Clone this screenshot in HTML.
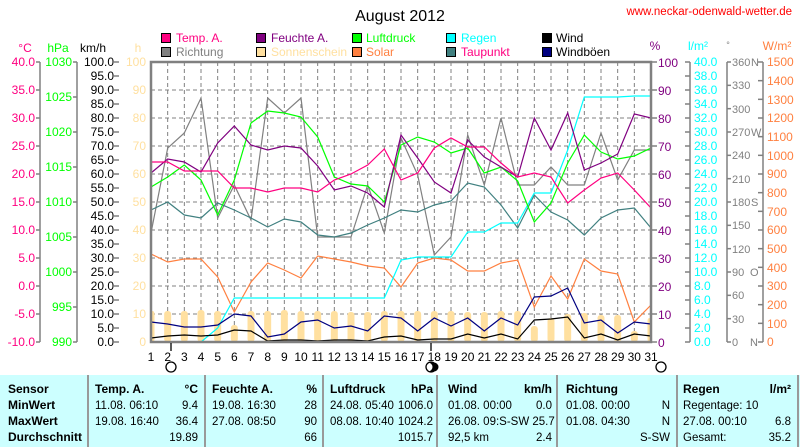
<!DOCTYPE html>
<html><head><meta charset="utf-8"><style>
body{margin:0;background:#fff}
svg{display:block;font-family:"Liberation Sans",sans-serif}
.t{font-size:12px}
.tb{font-size:12px;font-weight:bold}
</style></head><body>
<svg id="s" width="800" height="447" viewBox="0 0 800 447">
<rect width="800" height="447" fill="#fff"/>
<text x="400" y="21" font-size="16" text-anchor="middle">August 2012</text>
<text x="792" y="15" font-size="11.5" fill="#ff0000" text-anchor="end">www.neckar-odenwald-wetter.de</text>
<g font-size="12">
<rect x="161.5" y="33.5" width="9" height="9" fill="#ff0080" stroke="#000"/><text x="176" y="42" fill="#ff0080">Temp. A.</text>
<rect x="256.5" y="33.5" width="9" height="9" fill="#800080" stroke="#000"/><text x="271" y="42" fill="#800080">Feuchte A.</text>
<rect x="352.5" y="33.5" width="9" height="9" fill="#00ff00" stroke="#000"/><text x="366" y="42" fill="#00ff00">Luftdruck</text>
<rect x="446.5" y="33.5" width="9" height="9" fill="#00ffff" stroke="#000"/><text x="461" y="42" fill="#00ffff">Regen</text>
<rect x="542.5" y="33.5" width="9" height="9" fill="#000" stroke="#000"/><text x="556" y="42" fill="#000">Wind</text>
<rect x="161.5" y="47.5" width="9" height="9" fill="#808080" stroke="#000"/><text x="176" y="56" fill="#808080">Richtung</text>
<rect x="256.5" y="47.5" width="9" height="9" fill="#ffe0a0" stroke="#000"/><text x="271" y="56" fill="#ffe0a0">Sonnenschein</text>
<rect x="352.5" y="47.5" width="9" height="9" fill="#ff8040" stroke="#000"/><text x="366" y="56" fill="#ff8040">Solar</text>
<rect x="446.5" y="47.5" width="9" height="9" fill="#408080" stroke="#000"/><text x="461" y="56" fill="#ff0080">Taupunkt</text>
<rect x="542.5" y="47.5" width="9" height="9" fill="#000080" stroke="#000"/><text x="556" y="56" fill="#000">Windböen</text>
</g>
<g font-size="12">
<text x="25" y="52" text-anchor="middle" fill="#ff0080">°C</text>
<text x="58" y="52" text-anchor="middle" fill="#00ff00">hPa</text>
<text x="93" y="52" text-anchor="middle">km/h</text>
<text x="138" y="52" text-anchor="middle" fill="#ffe0a0">h</text>
<text x="655" y="50" text-anchor="middle" fill="#800080">%</text>
<text x="698" y="50" text-anchor="middle" fill="#00ffff">l/m²</text>
<text x="728" y="48" text-anchor="middle" fill="#808080" font-size="9">°</text>
<text x="777" y="50" text-anchor="middle" fill="#ff8040">W/m²</text>
</g>
<g stroke="#808080" stroke-width="1.5">
<line x1="40" y1="62" x2="40" y2="342"/>
<line x1="77" y1="62" x2="77" y2="342"/>
<line x1="690" y1="62" x2="690" y2="342"/>
<line x1="727" y1="62" x2="727" y2="342"/>
<line x1="763" y1="62" x2="763" y2="342"/>
</g>
<g id="ticks" stroke="#808080" stroke-width="1.5"></g>
<g class="t" fill="#ff0080" text-anchor="end">
<text x="35" y="66">40.0</text><text x="35" y="94">35.0</text><text x="35" y="122">30.0</text><text x="35" y="150">25.0</text><text x="35" y="178">20.0</text><text x="35" y="206">15.0</text><text x="35" y="234">10.0</text><text x="35" y="262">5.0</text><text x="35" y="290">0.0</text><text x="35" y="318">-5.0</text><text x="35" y="346">-10.0</text>
</g>
<g class="t" fill="#00ff00" text-anchor="end">
<text x="72" y="66">1030</text><text x="72" y="101">1025</text><text x="72" y="136">1020</text><text x="72" y="171">1015</text><text x="72" y="206">1010</text><text x="72" y="241">1005</text><text x="72" y="276">1000</text><text x="72" y="311">995</text><text x="72" y="346">990</text>
</g>
<g class="t" fill="#000" text-anchor="end">
<text x="114" y="66">100.0</text><text x="114" y="80">95.0</text><text x="114" y="94">90.0</text><text x="114" y="108">85.0</text><text x="114" y="122">80.0</text><text x="114" y="136">75.0</text><text x="114" y="150">70.0</text><text x="114" y="164">65.0</text><text x="114" y="178">60.0</text><text x="114" y="192">55.0</text><text x="114" y="206">50.0</text><text x="114" y="220">45.0</text><text x="114" y="234">40.0</text><text x="114" y="248">35.0</text><text x="114" y="262">30.0</text><text x="114" y="276">25.0</text><text x="114" y="290">20.0</text><text x="114" y="304">15.0</text><text x="114" y="318">10.0</text><text x="114" y="332">5.0</text><text x="114" y="346">0.0</text>
</g>
<g class="t" fill="#ffe0a0" text-anchor="end">
<text x="146" y="66">100</text><text x="146" y="94">90</text><text x="146" y="122">80</text><text x="146" y="150">70</text><text x="146" y="178">60</text><text x="146" y="206">50</text><text x="146" y="234">40</text><text x="146" y="262">30</text><text x="146" y="290">20</text><text x="146" y="318">10</text><text x="146" y="346">0</text>
</g>
<g class="t" fill="#800080">
<text x="658" y="67">100</text><text x="658" y="95">90</text><text x="658" y="123">80</text><text x="658" y="151">70</text><text x="658" y="179">60</text><text x="658" y="207">50</text><text x="658" y="235">40</text><text x="658" y="263">30</text><text x="658" y="291">20</text><text x="658" y="319">10</text><text x="658" y="347">0</text>
</g>
<g class="t" fill="#00ffff">
<text x="694" y="66">40.0</text><text x="694" y="80">38.0</text><text x="694" y="94">36.0</text><text x="694" y="108">34.0</text><text x="694" y="122">32.0</text><text x="694" y="136">30.0</text><text x="694" y="150">28.0</text><text x="694" y="164">26.0</text><text x="694" y="178">24.0</text><text x="694" y="192">22.0</text><text x="694" y="206">20.0</text><text x="694" y="220">18.0</text><text x="694" y="234">16.0</text><text x="694" y="248">14.0</text><text x="694" y="262">12.0</text><text x="694" y="276">10.0</text><text x="694" y="290">8.0</text><text x="694" y="304">6.0</text><text x="694" y="318">4.0</text><text x="694" y="332">2.0</text><text x="694" y="346">0.0</text>
</g>
<g font-size="11" fill="#808080">
<text x="732" y="66">360</text><text x="732" y="89">330</text><text x="732" y="113">300</text><text x="732" y="136">270</text><text x="732" y="159">240</text><text x="732" y="183">210</text><text x="732" y="206">180</text><text x="732" y="229">150</text><text x="732" y="253">120</text><text x="732" y="276">90</text><text x="732" y="299">60</text><text x="732" y="323">30</text><text x="732" y="346">0</text>
<text x="751" y="66">N</text><text x="751" y="136">W</text><text x="751" y="206">S</text><text x="750" y="276">O</text><text x="750" y="346">N</text>
</g>
<g class="t" fill="#ff8040">
<text x="767" y="66">1500</text><text x="767" y="85">1400</text><text x="767" y="104">1300</text><text x="767" y="122">1200</text><text x="767" y="141">1100</text><text x="767" y="160">1000</text><text x="767" y="178">900</text><text x="767" y="197">800</text><text x="767" y="216">700</text><text x="767" y="234">600</text><text x="767" y="253">500</text><text x="767" y="272">400</text><text x="767" y="290">300</text><text x="767" y="309">200</text><text x="767" y="328">100</text><text x="767" y="346">0</text>
</g>
<g id="grid" stroke="#808080" stroke-dasharray="4,3" stroke-width="1"></g>
<g id="bars" fill="#ffe0a0"></g>
<g id="series" fill="none" stroke-width="1.2"></g>
<rect x="151" y="62" width="500" height="280" fill="none" stroke="#808080" stroke-width="2.5"/>
<g class="t" text-anchor="middle" font-size="13">
<text x="151" y="361">1</text><text x="167.7" y="361">2</text><text x="184.3" y="361">3</text><text x="201" y="361">4</text><text x="217.7" y="361">5</text><text x="234.3" y="361">6</text><text x="251" y="361">7</text><text x="267.7" y="361">8</text><text x="284.3" y="361">9</text><text x="301" y="361">10</text><text x="317.7" y="361">11</text><text x="334.3" y="361">12</text><text x="351" y="361">13</text><text x="367.7" y="361">14</text><text x="384.3" y="361">15</text><text x="401" y="361">16</text><text x="417.7" y="361">17</text><text x="434.3" y="361">18</text><text x="451" y="361">19</text><text x="467.7" y="361">20</text><text x="484.3" y="361">21</text><text x="501" y="361">22</text><text x="517.7" y="361">23</text><text x="534.3" y="361">24</text><text x="551" y="361">25</text><text x="567.7" y="361">26</text><text x="584.3" y="361">27</text><text x="601" y="361">28</text><text x="617.7" y="361">29</text><text x="634.3" y="361">30</text><text x="651" y="361">31</text>
</g>
<g stroke="#000" stroke-width="1.3">
<line x1="171" y1="343" x2="171" y2="351"/><line x1="431" y1="343" x2="431" y2="351"/>
<circle cx="171" cy="367" r="5" fill="#fff"/>
<circle cx="431" cy="367" r="5" fill="#fff"/><path d="M428 362.5 A4.5 4.5 0 0 1 428 371.5 L434 371.5 A4.5 4.5 0 0 0 434 362.5Z" fill="#000" stroke="none"/>
<circle cx="661" cy="367" r="5" fill="#fff"/>
</g>
<rect x="0" y="375" width="800" height="72" fill="#ccffff"/>
<g stroke="#999" stroke-width="2">
<line x1="88" y1="375" x2="88" y2="447"/><line x1="205" y1="375" x2="205" y2="447"/><line x1="323" y1="375" x2="323" y2="447"/><line x1="437" y1="375" x2="437" y2="447"/><line x1="557" y1="375" x2="557" y2="447"/><line x1="677" y1="375" x2="677" y2="447"/><line x1="798" y1="375" x2="798" y2="447"/>
</g>
<g font-size="11.5">
<text class="tb" x="8" y="393">Sensor</text><text class="tb" x="8" y="409">MinWert</text><text class="tb" x="8" y="425">MaxWert</text><text class="tb" x="8" y="441">Durchschnitt</text>
<text class="tb" x="95" y="393">Temp. A.</text><text class="tb" x="198" y="393" text-anchor="end">°C</text>
<text x="95" y="409">11.08.  06:10</text><text x="198" y="409" text-anchor="end">9.4</text>
<text x="95" y="425">19.08.  16:40</text><text x="198" y="425" text-anchor="end">36.4</text>
<text x="198" y="441" text-anchor="end">19.89</text>
<text class="tb" x="212" y="393">Feuchte A.</text><text class="tb" x="317" y="393" text-anchor="end">%</text>
<text x="212" y="409">19.08.  16:30</text><text x="317" y="409" text-anchor="end">28</text>
<text x="212" y="425">27.08.  08:50</text><text x="317" y="425" text-anchor="end">90</text>
<text x="317" y="441" text-anchor="end">66</text>
<text class="tb" x="330" y="393">Luftdruck</text><text class="tb" x="433" y="393" text-anchor="end">hPa</text>
<text x="330" y="409">24.08.  05:40</text><text x="433" y="409" text-anchor="end">1006.0</text>
<text x="330" y="425">08.08.  10:40</text><text x="433" y="425" text-anchor="end">1024.2</text>
<text x="433" y="441" text-anchor="end">1015.7</text>
<text class="tb" x="448" y="393">Wind</text><text class="tb" x="552" y="393" text-anchor="end">km/h</text>
<text x="448" y="409">01.08.  00:00</text><text x="552" y="409" text-anchor="end">0.0</text>
<text x="448" y="425">26.08.  09:S-SW 25.7</text>
<text x="448" y="441">92,5 km</text><text x="552" y="441" text-anchor="end">2.4</text>
<text class="tb" x="566" y="393">Richtung</text>
<text x="566" y="409">01.08.  00:00</text><text x="670" y="409" text-anchor="end">N</text>
<text x="566" y="425">01.08.  04:30</text><text x="670" y="425" text-anchor="end">N</text>
<text x="670" y="441" text-anchor="end">S-SW</text>
<text class="tb" x="683" y="393">Regen</text><text class="tb" x="791" y="393" text-anchor="end">l/m²</text>
<text x="683" y="409">Regentage: 10</text>
<text x="683" y="425">27.08.  00:10</text><text x="791" y="425" text-anchor="end">6.8</text>
<text x="683" y="441">Gesamt:</text><text x="791" y="441" text-anchor="end">35.2</text>
</g>
</svg>
<script>
var NS="http://www.w3.org/2000/svg";
function el(p,n,a){var e=document.createElementNS(NS,n);for(var k in a)e.setAttribute(k,a[k]);document.getElementById(p).appendChild(e);}
function X(i){return 151+i*500/30;}
for(var i=0;i<=10;i++)el("ticks","line",{x1:36,x2:40,y1:62+i*28,y2:62+i*28});
for(var i=0;i<=8;i++)el("ticks","line",{x1:73,x2:77,y1:62+i*35,y2:62+i*35});
for(var i=0;i<=20;i++){el("ticks","line",{x1:114,x2:119,y1:62+i*14,y2:62+i*14});el("ticks","line",{x1:685,x2:690,y1:62+i*14,y2:62+i*14});}
for(var i=0;i<=10;i++)el("ticks","line",{x1:651,x2:657,y1:62+i*28,y2:62+i*28});
for(var i=0;i<=12;i++)el("ticks","line",{x1:727,x2:731,y1:62+i*280/12,y2:62+i*280/12});
for(var i=0;i<=15;i++)el("ticks","line",{x1:758,x2:763,y1:62+i*280/15,y2:62+i*280/15});
for(var i=1;i<30;i++)el("grid","line",{x1:X(i),x2:X(i),y1:62,y2:342});
for(var i=1;i<10;i++)el("grid","line",{x1:151,x2:651,y1:62+i*28,y2:62+i*28});
var sun=[311,311,311,310,311,325,311,311,310,311,311,311,312,312,311,311,311,311,311,312,312,311,311,326,318,314,313,315,315,331,318];
for(var i=0;i<31;i++){var x=X(i),x0=x-3.5,x1=x+3.5;if(i==0){x0=x;}if(i==30){x1=x;}el("bars","rect",{x:x0,y:sun[i],width:x1-x0,height:342-sun[i],rx:3});}
var S=[
["#ff8040",[254,262,259,259,277,312,282,263,270,278,256,259,262,266,268,287,263,258,260,271,271,263,260,307,276,299,259,271,274,322,305]],
["#808080",[233,148,133,98,218,185,220,98,113,98,237,237,237,185,233,138,175,255,237,135,185,118,185,185,167,185,185,133,180,150,150]],
["#408080",[210,202,215,218,203,210,218,227,219,222,235,237,233,225,218,210,212,205,201,183,187,205,228,195,212,220,235,218,210,208,228]],
["#00ffff",[342,342,342,342,328,298,298,298,298,298,298,298,298,298,298,260,257,257,257,232,232,223,223,193,193,150,97,97,97,96,96]],
["#00ff00",[187,177,165,180,215,180,123,111,113,117,137,177,184,186,202,145,137,142,153,148,173,167,181,222,203,163,135,152,159,156,148]],
["#800080",[173,159,162,172,143,126,145,150,146,148,166,190,186,193,207,135,158,182,193,140,157,167,177,118,150,113,170,163,154,114,118]],
["#ff0080",[162,162,171,171,171,188,188,192,188,188,192,180,174,165,149,180,173,148,138,147,147,163,177,173,177,203,190,178,173,190,208]],
["#000080",[322,324,327,327,325,314,316,337,334,322,320,328,326,331,316,318,331,318,326,318,331,318,325,297,296,288,323,320,333,322,324]],
["#000000",[338,336,335,336,335,330,331,341,340,340,341,340,340,341,337,336,340,339,339,334,338,334,339,320,319,317,338,334,340,334,336]]
];
S.forEach(function(s){var p=s[1].map(function(y,i){return X(i).toFixed(1)+","+y;}).join(" ");el("series","polyline",{points:p,stroke:s[0]});});
</script>
</body></html>
